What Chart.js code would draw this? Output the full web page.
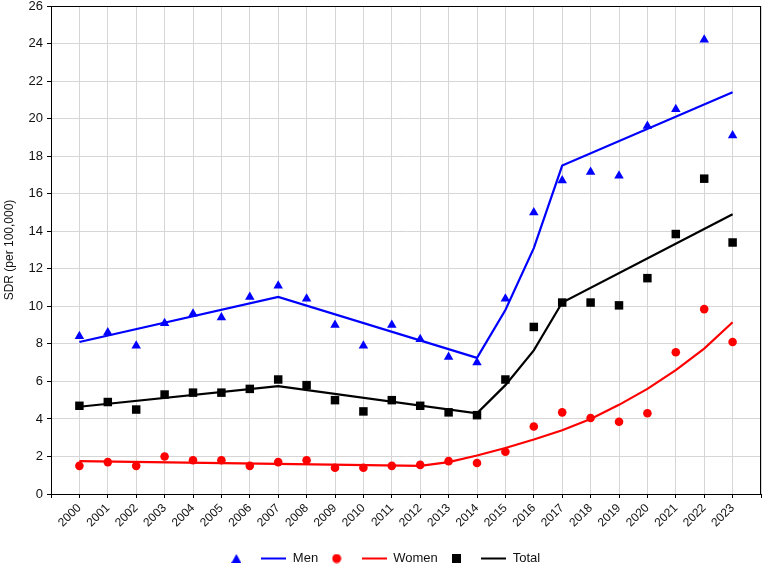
<!DOCTYPE html>
<html>
<head>
<meta charset="utf-8">
<script src="https://cdn.jsdelivr.net/npm/chart.js@4"></script>
<style>
  html, body { margin: 0; padding: 0; background: #fff; }
  #wrap { width: 767px; height: 565px; }
</style>
</head>
<body>
<div id="wrap"><canvas id="sdrChart" width="767" height="565"></canvas></div>
<script>
const years = [2000, 2001, 2002, 2003, 2004, 2005, 2006, 2007, 2008, 2009, 2010, 2011,
               2012, 2013, 2014, 2015, 2016, 2017, 2018, 2019, 2020, 2021, 2022, 2023];

// observed values
const menObs   = [8.4, 8.6, 7.9, 9.1, 9.6, 9.4, 10.5, 11.1, 10.4, 9.0, 7.9, 9.0,
                  8.25, 7.3, 7.0, 10.4, 15.0, 16.7, 17.15, 16.95, 19.6, 20.5, 24.2, 19.1];
const womenObs = [1.5, 1.7, 1.5, 2.0, 1.8, 1.8, 1.5, 1.7, 1.8, 1.4, 1.4, 1.5,
                  1.55, 1.75, 1.65, 2.25, 3.6, 4.35, 4.05, 3.85, 4.3, 7.55, 9.85, 8.1];
const totalObs = [4.7, 4.9, 4.5, 5.3, 5.4, 5.4, 5.6, 6.1, 5.8, 5.0, 4.4, 5.0,
                  4.7, 4.35, 4.2, 6.1, 8.9, 10.2, 10.2, 10.05, 11.5, 13.85, 16.8, 13.4];

// fitted trend (joinpoints)
const menFitYears   = [2000, 2007, 2014, 2015, 2016, 2017, 2023];
const menFit        = [8.1, 10.5, 7.25, 9.8, 13.1, 17.5, 21.4];
const womenFitYears = [2000, 2012, 2013, 2014, 2015, 2016, 2017, 2018, 2019, 2020, 2021, 2022, 2023];
const womenFit      = [1.75, 1.5, 1.7, 2.05, 2.45, 2.9, 3.4, 4.0, 4.75, 5.6, 6.6, 7.75, 9.15];
const totalFitYears = [2000, 2007, 2014, 2015, 2016, 2017, 2023];
const totalFit      = [4.65, 5.75, 4.3, 5.8, 7.65, 10.2, 14.9];

const yTicks = [0, 2, 4, 6, 8, 10, 12, 14, 16, 18, 20, 22, 24, 26];

function pts(xs, ys) {
    return xs.map(function (x, i) { return { x: x, y: ys[i] }; });
}

// small legend icons
function icon(w, h, draw) {
    const c = document.createElement('canvas');
    c.width = w; c.height = h;
    draw(c.getContext('2d'));
    return c;
}
const triIcon = icon(10, 9, function (g) {
    g.fillStyle = '#0000ff'; g.beginPath(); g.moveTo(5, 0); g.lineTo(10, 9); g.lineTo(0, 9); g.closePath(); g.fill();
});
const dotIcon = icon(10, 10, function (g) {
    g.fillStyle = '#ff0000'; g.beginPath(); g.arc(5, 5, 4.5, 0, Math.PI * 2); g.fill();
});
const sqIcon = icon(9, 9, function (g) { g.fillStyle = '#000'; g.fillRect(0, 0, 9, 9); });
function lineIcon(col) {
    return icon(25, 3, function (g) { g.fillStyle = col; g.fillRect(0, 0.5, 25, 2); });
}
const legendIcons = [triIcon, lineIcon('#0000ff'), dotIcon, lineIcon('#ff0000'), sqIcon, lineIcon('#000')];

const frame = {
    id: 'frame',
    afterDatasetsDraw: function (chart) {
        const a = chart.chartArea, c = chart.ctx;
        c.save();
        c.strokeStyle = '#000';
        c.lineWidth = 1;
        c.strokeRect(a.left + 0.5, a.top + 0.5, a.right - a.left - 1, a.bottom - a.top);
        c.restore();
    }
};

Chart.defaults.font.family = '"Liberation Sans", Arial, sans-serif';
Chart.defaults.color = '#111';

new Chart(document.getElementById('sdrChart').getContext('2d'), {
    type: 'scatter',
    data: {
        datasets: [
            { label: '', data: pts(years, menObs), pointStyle: 'triangle', pointRadius: 5.5,
              backgroundColor: '#0000ff', borderColor: '#0000ff', borderWidth: 0 },
            { label: 'Men', type: 'line', data: pts(menFitYears, menFit), borderColor: '#0000ff',
              backgroundColor: '#0000ff', borderWidth: 2.2, pointRadius: 0, fill: false },
            { label: '', data: pts(years, womenObs), pointStyle: 'circle', pointRadius: 4.3,
              backgroundColor: '#ff0000', borderColor: '#ff0000', borderWidth: 0 },
            { label: 'Women', type: 'line', data: pts(womenFitYears, womenFit), borderColor: '#ff0000',
              backgroundColor: '#ff0000', borderWidth: 2.2, pointRadius: 0, fill: false },
            { label: '', data: pts(years, totalObs), pointStyle: 'rect', pointRadius: 6,
              backgroundColor: '#000', borderColor: '#000', borderWidth: 0 },
            { label: 'Total', type: 'line', data: pts(totalFitYears, totalFit), borderColor: '#000',
              backgroundColor: '#000', borderWidth: 2.2, pointRadius: 0, fill: false }
        ]
    },
    options: {
        responsive: false,
        animation: false,
        layout: { padding: { top: 2, right: 3, left: 0, bottom: -10 } },
        plugins: {
            tooltip: { enabled: false },
            legend: {
                position: 'bottom',
                labels: {
                    usePointStyle: true,
                    pointStyleWidth: 25,
                    boxHeight: 10,
                    padding: 6,
                    color: '#111',
                    font: { size: 13 },
                    generateLabels: function (chart) {
                        return chart.data.datasets.map(function (ds, i) {
                            return {
                                text: ds.label,
                                pointStyle: legendIcons[i],
                                fillStyle: ds.backgroundColor,
                                strokeStyle: ds.borderColor,
                                lineWidth: 0,
                                fontColor: '#111',
                                hidden: false,
                                datasetIndex: i
                            };
                        });
                    }
                }
            }
        },
        scales: {
            x: {
                type: 'linear',
                min: 1999,
                max: 2024,
                ticks: {
                    stepSize: 1,
                    autoSkip: false,
                    minRotation: 45,
                    maxRotation: 45,
                    font: { size: 12 },
                    color: '#111',
                    callback: function (v) {
                        return (v >= years[0] && v <= years[years.length - 1]) ? String(v) : '';
                    }
                },
                grid: { color: '#d6d6d6', tickLength: 4, tickColor: '#000' },
                border: { color: '#000' },
                afterFit: function (scale) {
                    scale.height = 52;
                    scale.paddingLeft = 0;
                    scale.paddingRight = 0;
                }
            },
            y: {
                min: 0,
                max: 26,
                afterBuildTicks: function (scale) {
                    scale.ticks = yTicks.map(function (v) { return { value: v }; });
                },
                ticks: { font: { size: 13 }, color: '#111', padding: 4 },
                grid: { color: '#d6d6d6', tickLength: 4, tickColor: '#000' },
                border: { color: '#000' },
                title: { display: true, text: 'SDR (per 100,000)', font: { size: 12 }, color: '#111', padding: 2 },
                afterFit: function (scale) {
                    scale.width = 51;
                    scale.paddingTop = 6;
                    scale.paddingBottom = 0;
                }
            }
        }
    },
    plugins: [frame]
});
</script>
</body>
</html>
